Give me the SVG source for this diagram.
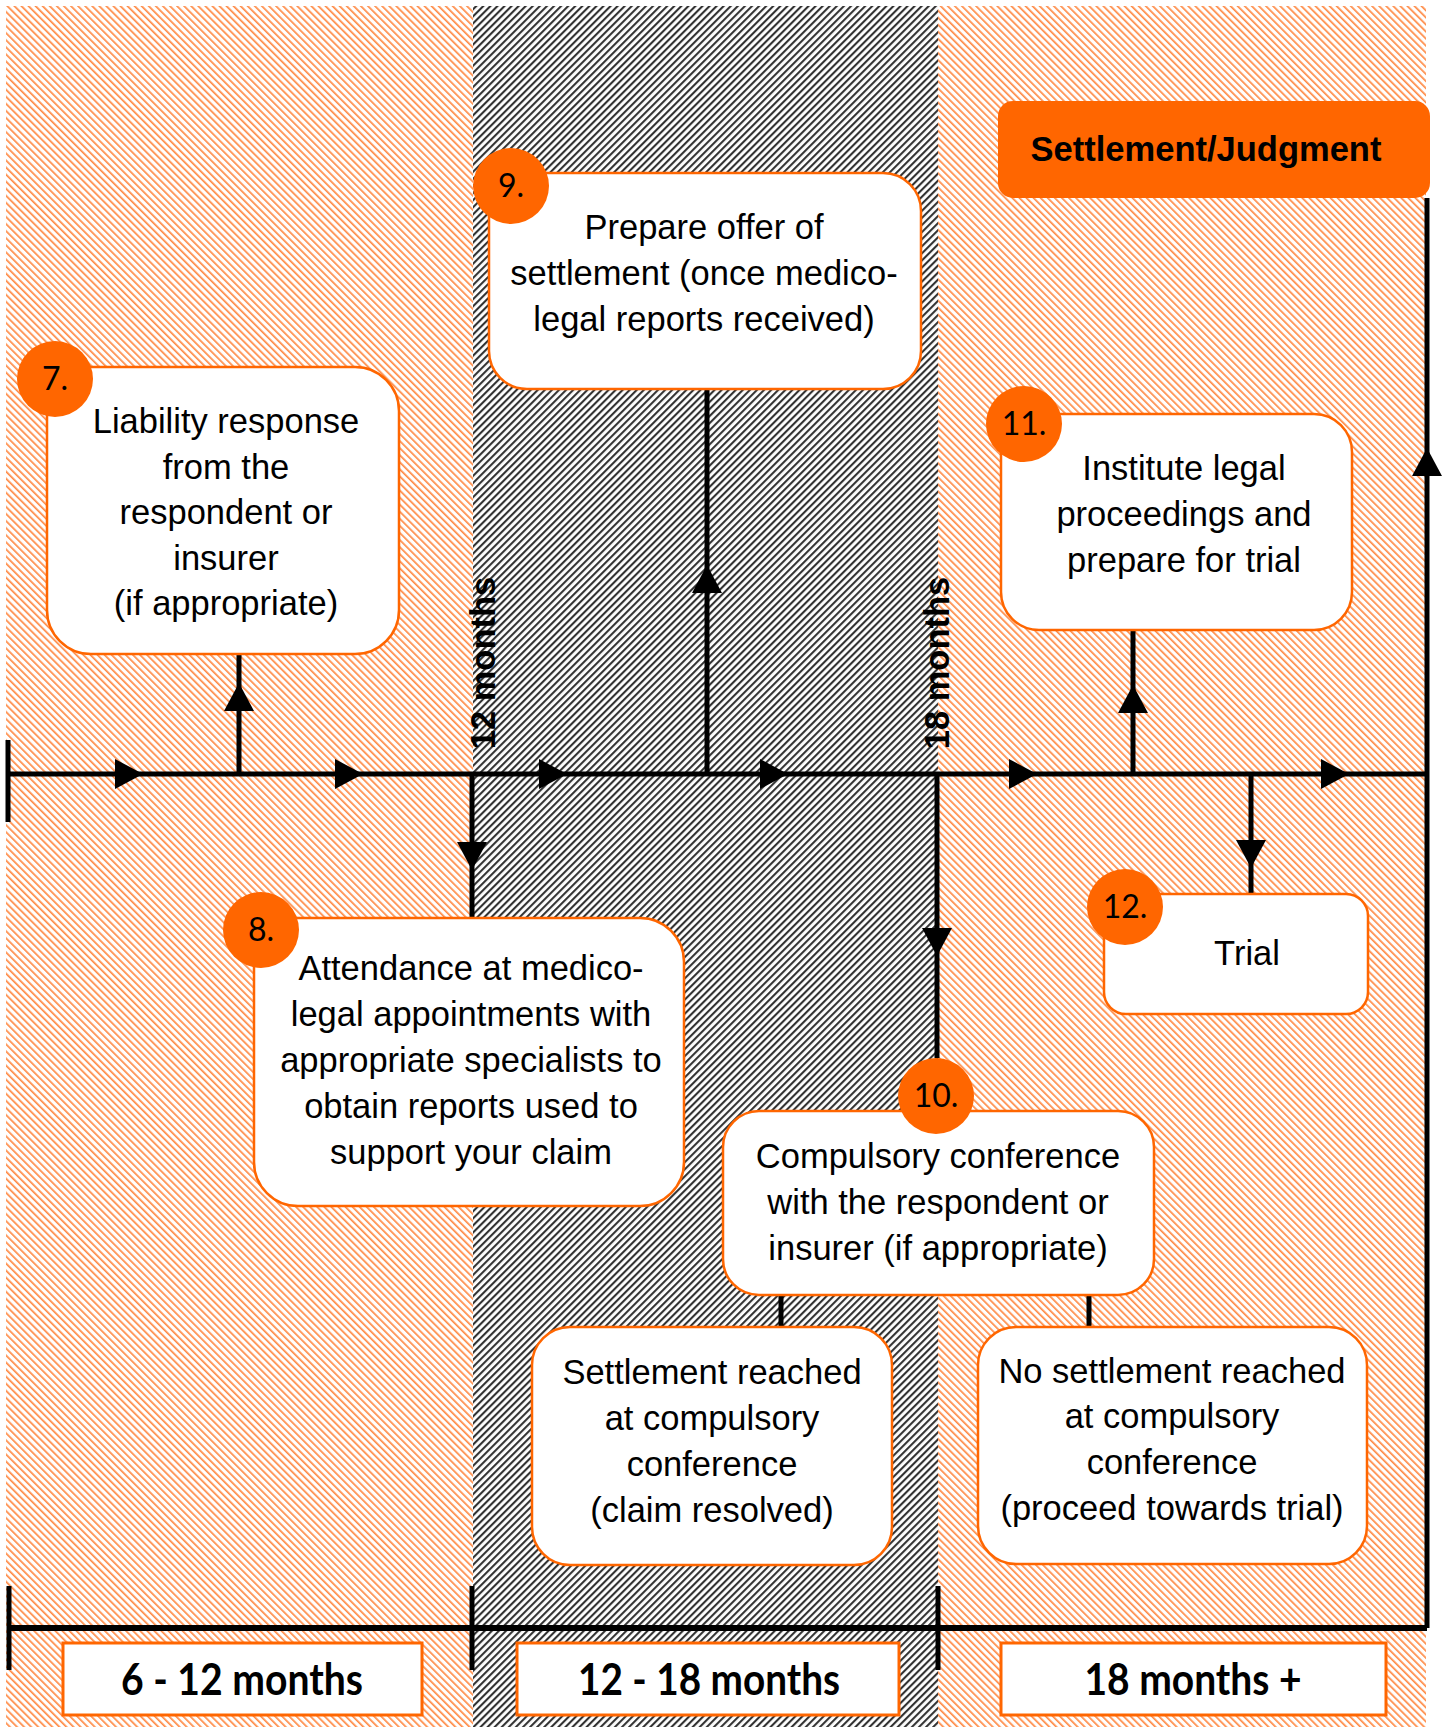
<svg xmlns="http://www.w3.org/2000/svg" xmlns:xlink="http://www.w3.org/1999/xlink" width="1447" height="1727" viewBox="0 0 1447 1727">
<defs>
<pattern id="hatchOrange" patternUnits="userSpaceOnUse" width="5" height="5" patternTransform="rotate(-45)">
<rect width="5" height="5" fill="#ffffff"/>
<rect width="1.7" height="5" fill="#ff8a45"/>
</pattern>
<pattern id="hatchGray" patternUnits="userSpaceOnUse" width="5" height="5" patternTransform="rotate(45)">
<rect width="5" height="5" fill="#ffffff"/>
<rect width="2.1" height="5" fill="#333333"/>
</pattern>
<path id="ah" d="M-28,-15 L0,0 L-28,15 Z" fill="#000"/>
</defs>
<style>
.box{fill:#ffffff;stroke:#ff6600;stroke-width:2.5}
.badge{fill:#ff6600}
.num{font-family:Lato,"Liberation Sans",sans-serif;font-size:32px;fill:#000;text-anchor:middle}
.t{font-family:"Liberation Sans",Arial,sans-serif;font-size:34.5px;fill:#000;text-anchor:middle}
.tb{font-family:"Liberation Sans",Arial,sans-serif;font-size:34.5px;font-weight:bold;fill:#000;text-anchor:middle}
.period{fill:#ffffff;stroke:#ff6600;stroke-width:3}
.pt{font-family:Lato,"Liberation Sans",sans-serif;font-size:44px;font-weight:bold;fill:#000;text-anchor:middle}
.ln{stroke:#000;stroke-width:5;fill:none}
</style>

<g id="background">
<rect x="6" y="6" width="467" height="1721" fill="url(#hatchOrange)"/>
<rect x="473" y="6" width="465" height="1721" fill="url(#hatchGray)"/>
<rect x="938" y="6" width="488" height="1721" fill="url(#hatchOrange)"/>
</g>

<g id="connectors">
<path class="ln" d="M8,774 H1427"/>
<path class="ln" d="M8,740 V822"/>
<path class="ln" d="M239,774 V654"/>
<path class="ln" d="M472,774 V918"/>
<path class="ln" d="M707,774 V389"/>
<path class="ln" d="M937,774 V1058"/>
<path class="ln" d="M1133,774 V630"/>
<path class="ln" d="M1251,774 V894"/>
<path class="ln" d="M1427,1628 V198"/>
<path class="ln" d="M781,1295 V1327"/>
<path class="ln" d="M1089,1295 V1327"/>
<path class="ln" style="stroke-width:6" d="M9,1628 H1427"/>
<path class="ln" d="M9,1586 V1670"/>
<path class="ln" d="M472,1586 V1670"/>
<path class="ln" d="M938,1586 V1670"/>
<use xlink:href="#ah" transform="translate(143,774)"/>
<use xlink:href="#ah" transform="translate(363,774)"/>
<use xlink:href="#ah" transform="translate(567,774)"/>
<use xlink:href="#ah" transform="translate(788,774)"/>
<use xlink:href="#ah" transform="translate(1037,774)"/>
<use xlink:href="#ah" transform="translate(1349,774)"/>
<use xlink:href="#ah" transform="translate(239,683) rotate(-90)"/>
<use xlink:href="#ah" transform="translate(707,565) rotate(-90)"/>
<use xlink:href="#ah" transform="translate(1133,685) rotate(-90)"/>
<use xlink:href="#ah" transform="translate(1427,448) rotate(-90)"/>
<use xlink:href="#ah" transform="translate(472,870) rotate(90)"/>
<use xlink:href="#ah" transform="translate(937,956) rotate(90)"/>
<use xlink:href="#ah" transform="translate(1251,868) rotate(90)"/>
</g>

<g id="milestones">
<text class="tb" transform="translate(495,663) rotate(-90)">12 months</text>
<text class="tb" transform="translate(949,663) rotate(-90)">18 months</text>
</g>

<g id="node-settlement-judgment">
<rect x="998" y="101" width="432" height="97" rx="15" fill="#ff6600"/>
<text class="tb" x="1206" y="161">Settlement/Judgment</text>
</g>

<g id="node-7">
<rect class="box" x="47" y="367" width="352" height="287" rx="44"/>
<circle class="badge" cx="55" cy="379" r="38"/>
<text class="num" x="55" y="390">7.</text>
<text class="t" x="226" y="433">Liability response</text>
<text class="t" x="226" y="479">from the</text>
<text class="t" x="226" y="524">respondent or</text>
<text class="t" x="226" y="570">insurer</text>
<text class="t" x="226" y="615">(if appropriate)</text>
</g>

<g id="node-8">
<rect class="box" x="254" y="918" width="430" height="288" rx="44"/>
<circle class="badge" cx="261" cy="930" r="38"/>
<text class="num" x="261" y="941">8.</text>
<text class="t" x="471" y="980">Attendance at medico-</text>
<text class="t" x="471" y="1026">legal appointments with</text>
<text class="t" x="471" y="1072">appropriate specialists to</text>
<text class="t" x="471" y="1118">obtain reports used to</text>
<text class="t" x="471" y="1164">support your claim</text>
</g>

<g id="node-9">
<rect class="box" x="489" y="173" width="432" height="216" rx="38"/>
<circle class="badge" cx="511" cy="186" r="38"/>
<text class="num" x="511" y="197">9.</text>
<text class="t" x="704" y="239">Prepare offer of</text>
<text class="t" x="704" y="285">settlement (once medico-</text>
<text class="t" x="704" y="331">legal reports received)</text>
</g>

<g id="node-10">
<rect class="box" x="723" y="1111" width="431" height="184" rx="36"/>
<circle class="badge" cx="936" cy="1096" r="38"/>
<text class="num" x="936" y="1107">10.</text>
<text class="t" x="938" y="1168">Compulsory conference</text>
<text class="t" x="938" y="1214">with the respondent or</text>
<text class="t" x="938" y="1260">insurer (if appropriate)</text>
</g>

<g id="node-11">
<rect class="box" x="1001" y="414" width="351" height="216" rx="38"/>
<circle class="badge" cx="1024" cy="424" r="38"/>
<text class="num" x="1024" y="435">11.</text>
<text class="t" x="1184" y="480">Institute legal</text>
<text class="t" x="1184" y="526">proceedings and</text>
<text class="t" x="1184" y="572">prepare for trial</text>
</g>

<g id="node-12">
<rect class="box" x="1104" y="894" width="264" height="120" rx="22"/>
<circle class="badge" cx="1125" cy="907" r="38"/>
<text class="num" x="1125" y="918">12.</text>
<text class="t" x="1247" y="965">Trial</text>
</g>

<g id="node-settled">
<rect class="box" x="532" y="1327" width="360" height="238" rx="38"/>
<text class="t" x="712" y="1384">Settlement reached</text>
<text class="t" x="712" y="1430">at compulsory</text>
<text class="t" x="712" y="1476">conference</text>
<text class="t" x="712" y="1522">(claim resolved)</text>
</g>

<g id="node-not-settled">
<rect class="box" x="978" y="1327" width="389" height="237" rx="38"/>
<text class="t" x="1172" y="1383">No settlement reached</text>
<text class="t" x="1172" y="1428">at compulsory</text>
<text class="t" x="1172" y="1474">conference</text>
<text class="t" x="1172" y="1520">(proceed towards trial)</text>
</g>

<g id="period-6-12">
<rect class="period" x="63" y="1643" width="359" height="72"/>
<text class="pt" x="242" y="1695" textLength="242" lengthAdjust="spacingAndGlyphs">6 - 12 months</text>
</g>
<g id="period-12-18">
<rect class="period" x="517" y="1643" width="382" height="72"/>
<text class="pt" x="709" y="1695" textLength="262" lengthAdjust="spacingAndGlyphs">12 - 18 months</text>
</g>
<g id="period-18-plus">
<rect class="period" x="1001" y="1643" width="385" height="72"/>
<text class="pt" x="1193" y="1695" textLength="217" lengthAdjust="spacingAndGlyphs">18 months +</text>
</g>
</svg>
